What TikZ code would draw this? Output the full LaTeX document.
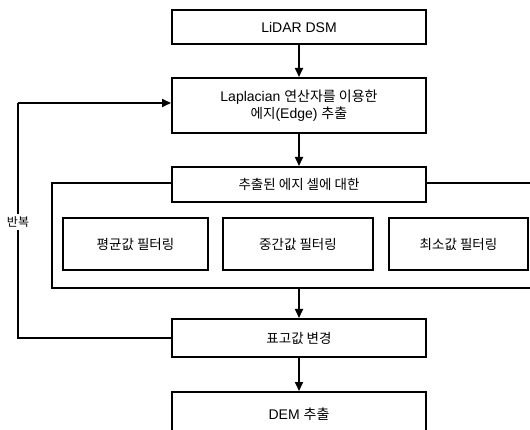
\documentclass[tikz,border=0pt]{standalone}
\usepackage{fontspec}
\setmainfont{Liberation Sans}
\newfontfamily\kr{Noto Sans CJK KR}
\usetikzlibrary{arrows.meta}
\tikzset{
  box/.style={draw=black, line width=2pt, fill=white, rectangle, inner sep=2pt, font=\fontsize{13.5}{17}\selectfont, align=center},
  conn/.style={draw=black, line width=1.7pt, -{Triangle[length=9pt,width=8pt]}},
  line/.style={draw=black, line width=1.7pt}
}
\begin{document}
\begin{tikzpicture}[x=1pt,y=-1pt]
\useasboundingbox (0,0) rectangle (530,430);
\clip (0,0) rectangle (530,430);
\fill[white] (0,0) rectangle (530,430);
% outer group frame (extends past the right edge)
\draw[line, line width=2pt] (52,183) rectangle (560,288);
\coordinate (outerbot) at (299,288);
\node[box, minimum width=254pt, minimum height=34pt] (lidar) at (299,27) {\fontsize{14}{16}\selectfont LiDAR DSM};
\node[box, minimum width=254pt, minimum height=55pt] (lap) at (299,105.5) {\fontsize{14}{17}\selectfont Laplacian {\kr 연산자를 이용한}\\{\kr 에지}\fontsize{14}{17}\selectfont(Edge) {\kr 추출}};
\node[box, minimum width=254pt, minimum height=35pt] (ext) at (299,184.5) {\kr 추출된 에지 셀에 대한};
\node[box, minimum width=145pt, minimum height=52pt] (mean) at (135.5,244) {\kr 평균값 필터링};
\node[box, minimum width=150pt, minimum height=52pt] (med) at (298,244) {\kr 중간값 필터링};
\node[box, minimum width=139pt, minimum height=52pt] (min) at (458.5,244) {\kr 최소값 필터링};
\node[box, minimum width=254pt, minimum height=38pt] (elev) at (299,338) {\kr 표고값 변경};
\node[box, minimum width=254pt, minimum height=44pt] (dem) at (299,414) {\fontsize{14}{16}\selectfont DEM {\kr 추출}};
\draw[conn] (lidar) -- (lap);
\draw[conn] (lap) -- (ext);
\draw[conn] (outerbot) -- (elev);
\draw[conn] (elev) -- (dem);
\coordinate (lb) at (18,338);
\coordinate (lt) at (18,103);
\draw[line] (elev.west) -- (lb) -- (lt);
\draw[conn] (lt) -- (lap.west |- lt);
\node[fill=white, inner sep=3pt, font=\kr\fontsize{12}{14}\selectfont] (rep) at (18,222) {반복};
\end{tikzpicture}
\end{document}
